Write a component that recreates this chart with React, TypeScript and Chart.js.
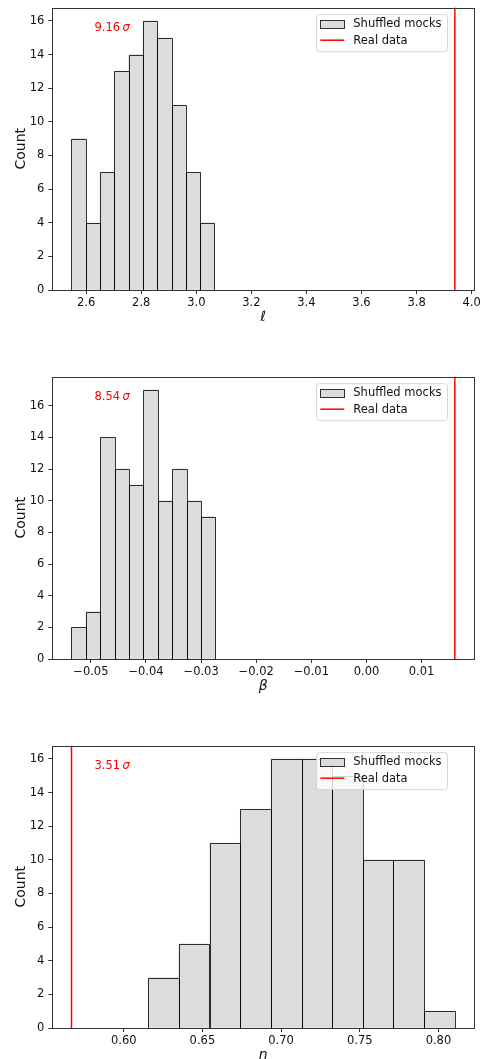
import React, { useEffect, useRef } from 'react';
import { Chart, registerables } from 'chart.js';

Chart.register(...registerables);

const FONT = "'DejaVu Sans', 'Liberation Sans', sans-serif";

// ---- Panel 1: ell ----
const ELL_BIN_EDGES = [2.5466, 2.5985, 2.6504, 2.7023, 2.7542, 2.8061, 2.8581, 2.91, 2.9619, 3.0138, 3.0657];
const ELL_COUNTS = [9, 4, 7, 13, 14, 16, 15, 11, 7, 4];
const ELL_REAL = 3.939;
const ELL_SIGMA = '9.16';
const ELL_TICKS = [2.6, 2.8, 3.0, 3.2, 3.4, 3.6, 3.8, 4.0];
const ELL_TICK_LABELS = ['2.6', '2.8', '3.0', '3.2', '3.4', '3.6', '3.8', '4.0'];
const ELL_X_RANGE = [2.477, 4.0086];
const ELL_Y_MAX = 16.8;

// ---- Panel 2: beta ----
const BETA_BIN_EDGES = [-0.05352, -0.05091, -0.0483, -0.04569, -0.04308, -0.04047, -0.03786, -0.03524, -0.03263, -0.03002, -0.02741];
const BETA_COUNTS = [2, 3, 14, 12, 11, 17, 10, 12, 10, 9];
const BETA_REAL = 0.01603;
const BETA_SIGMA = '8.54';
const BETA_TICKS = [-0.05, -0.04, -0.03, -0.02, -0.01, 0.0, 0.01];
const BETA_TICK_LABELS = ['\u22120.05', '\u22120.04', '\u22120.03', '\u22120.02', '\u22120.01', '0.00', '0.01'];
const BETA_X_RANGE = [-0.057, 0.01951];
const BETA_Y_MAX = 17.85;

// ---- Panel 3: n ----
const N_BIN_EDGES = [0.6155, 0.635, 0.6545, 0.674, 0.6935, 0.713, 0.7324, 0.7519, 0.7714, 0.7909, 0.8104];
const N_COUNTS = [3, 5, 11, 13, 16, 16, 15, 10, 10, 1];
const N_REAL = 0.5668;
const N_SIGMA = '3.51';
const N_TICKS = [0.6, 0.65, 0.7, 0.75, 0.8];
const N_TICK_LABELS = ['0.60', '0.65', '0.70', '0.75', '0.80'];
const N_X_RANGE = [0.5546, 0.8226];
const N_Y_MAX = 16.8;

const COUNT_TICKS = [0, 2, 4, 6, 8, 10, 12, 14, 16];

const BAR_FILL = '#dcdcdc';
const BAR_EDGE = 'rgba(0,0,0,0.8)';
const RED = '#ff0000';
const SPINE = '#333333';
const TEXT = '#111111';

const CANVAS_W = 487;
const CANVAS_H = 369;
const PLOT_TOP = 7.5;
const PLOT_BOTTOM = 290;
const Y_AXIS_W = 52.3;
const RIGHT_PAD = 13;
const X_TITLE_PAD = CANVAS_H - PLOT_BOTTOM - 27 - 7;

const decorPlugin = {
  id: 'decor',
  afterDatasetsDraw(chart: any, _args: any, opts: any) {
    const ctx = chart.ctx as CanvasRenderingContext2D;
    const area = chart.chartArea;
    ctx.save();
    // histogram bar edges (centred on bin boundaries, like matplotlib)
    const meta = chart.getDatasetMeta(0);
    ctx.strokeStyle = BAR_EDGE;
    ctx.lineWidth = 1;
    meta.data.forEach((el: any) => {
      const p = el.getProps(['x', 'y', 'base', 'width'], true);
      const l = Math.round(p.x - p.width / 2) + 0.5;
      const r = Math.round(p.x + p.width / 2) + 0.5;
      const t = Math.round(p.y) + 0.5;
      const b = Math.round(p.base) + 0.5;
      ctx.beginPath();
      ctx.moveTo(l, b);
      ctx.lineTo(l, t);
      ctx.lineTo(r, t);
      ctx.lineTo(r, b);
      ctx.stroke();
    });
    // spines
    ctx.strokeStyle = SPINE;
    ctx.lineWidth = 1;
    const L = Math.floor(area.left) + 0.5;
    const R = Math.round(area.right) + 0.5;
    const T = Math.round(area.top) + 0.5;
    const B = Math.round(area.bottom) + 0.5;
    ctx.strokeRect(L, T, R - L, B - T);

    // sigma annotation
    const ax = area.left + 0.1 * (area.right - area.left);
    const ay = area.top + 23.7;
    ctx.fillStyle = RED;
    ctx.textBaseline = 'alphabetic';
    ctx.textAlign = 'left';
    ctx.font = `11.5px ${FONT}`;
    const num = opts.sigma as string;
    ctx.fillText(num, ax, ay);
    const w = ctx.measureText(num).width;
    ctx.font = `italic 11.5px ${FONT}`;
    ctx.fillText('\u03c3', ax + w + 2.4, ay);

    // legend
    const bw = 131;
    const bh = 37;
    const bx = area.right - 27 - bw;
    const by = area.top + 6.7;
    ctx.beginPath();
    ctx.roundRect(bx + 0.5, by + 0.5, bw, bh, 3);
    ctx.fillStyle = 'rgba(255,255,255,0.8)';
    ctx.fill();
    ctx.strokeStyle = 'rgba(204,204,204,0.8)';
    ctx.lineWidth = 1;
    ctx.stroke();

    const ds = chart.data.datasets;
    const y1 = by + 9.3;
    const y2 = by + 26;
    // patch
    ctx.fillStyle = BAR_FILL;
    ctx.fillRect(Math.round(bx + 4.3) + 0.5, Math.round(y1 - 4) + 0.5, 24, 8);
    ctx.strokeStyle = BAR_EDGE;
    ctx.strokeRect(Math.round(bx + 4.3) + 0.5, Math.round(y1 - 4) + 0.5, 24, 8);
    // line
    ctx.strokeStyle = RED;
    ctx.lineWidth = 1.5;
    ctx.beginPath();
    ctx.moveTo(bx + 4.3, y2);
    ctx.lineTo(bx + 28.3, y2);
    ctx.stroke();
    // text
    ctx.fillStyle = TEXT;
    ctx.font = `11.5px ${FONT}`;
    ctx.textBaseline = 'middle';
    ctx.fillText(ds[0].label, bx + 37.3, y1 + 0.5);
    ctx.fillText(ds[1].label, bx + 37.3, y2 + 0.5);
    ctx.restore();
  },
};

type PanelProps = {
  edges: number[];
  counts: number[];
  real: number;
  sigma: string;
  xTicks: number[];
  xTickLabels: string[];
  xRange: number[];
  yMax: number;
  xTitle: string;
  top: number;
};

function HistPanel(props: PanelProps) {
  const ref = useRef<HTMLCanvasElement>(null);
  useEffect(() => {
    const { edges, counts, real, sigma, xTicks, xTickLabels, xRange, yMax, xTitle } = props;
    const bars = counts.map((c, i) => ({ x: (edges[i] + edges[i + 1]) / 2, y: c }));
    const tickFont = { family: FONT, size: 11.5 };
    const chart = new Chart(ref.current as HTMLCanvasElement, {
      type: 'bar',
      data: {
        datasets: [
          {
            type: 'bar',
            label: 'Shuffled mocks',
            data: bars as any,
            backgroundColor: BAR_FILL,
            borderWidth: 0,
            barPercentage: 1,
            categoryPercentage: 1,
            order: 2,
          },
          {
            type: 'line',
            label: 'Real data',
            data: [
              { x: real, y: 0 },
              { x: real, y: yMax },
            ] as any,
            borderColor: RED,
            borderWidth: 1.5,
            pointRadius: 0,
            fill: false,
            order: 1,
          } as any,
        ],
      },
      options: {
        responsive: false,
        animation: false,
        events: [],
        layout: { padding: { left: 0, right: RIGHT_PAD, top: PLOT_TOP, bottom: 0 } },
        plugins: {
          legend: { display: false },
          tooltip: { enabled: false },
          decor: { sigma },
        } as any,
        scales: {
          x: {
            type: 'linear',
            min: xRange[0],
            max: xRange[1],
            offset: false,
            grid: {
              display: true,
              drawOnChartArea: false,
              drawTicks: true,
              tickLength: 4,
              tickColor: SPINE,
              offset: false,
            },
            border: { display: false },
            ticks: {
              color: TEXT,
              font: tickFont,
              padding: 2,
              maxRotation: 0,
              minRotation: 0,
              autoSkip: false,
              callback: (_v: any, i: number) => xTickLabels[i],
            },
            afterBuildTicks: (s: any) => {
              s.ticks = xTicks.map((v) => ({ value: v }));
            },
            afterFit: (s: any) => {
              s.height = CANVAS_H - PLOT_BOTTOM;
              s.paddingLeft = 0;
              s.paddingRight = 0;
            },
            title: {
              display: true,
              text: xTitle,
              color: TEXT,
              font: { family: FONT, size: 14, style: 'italic', lineHeight: 1 },
              padding: { top: X_TITLE_PAD, bottom: X_TITLE_PAD },
            },
          } as any,
          y: {
            type: 'linear',
            min: 0,
            max: yMax,
            grid: {
              display: true,
              drawOnChartArea: false,
              drawTicks: true,
              tickLength: 4,
              tickColor: SPINE,
            },
            border: { display: false },
            ticks: {
              color: TEXT,
              font: tickFont,
              padding: 4,
              autoSkip: false,
              callback: (v: any) => String(v),
            },
            afterBuildTicks: (s: any) => {
              s.ticks = COUNT_TICKS.map((v) => ({ value: v }));
            },
            afterFit: (s: any) => {
              s.width = Y_AXIS_W;
              s.paddingTop = 0;
              s.paddingBottom = 0;
            },
            title: {
              display: true,
              text: 'Count',
              color: TEXT,
              font: { family: FONT, size: 14, lineHeight: 1 },
              padding: { top: 14, bottom: 0 },
            },
          } as any,
        },
      },
      plugins: [decorPlugin],
    });
    return () => chart.destroy();
  }, []);
  return (
    <canvas
      ref={ref}
      width={CANVAS_W}
      height={CANVAS_H}
      style={{ position: 'absolute', left: 0, top: props.top, width: CANVAS_W, height: CANVAS_H }}
    />
  );
}

export default function App() {
  return (
    <div
      style={{
        position: 'absolute',
        left: 0,
        top: 0,
        width: 487,
        height: 1059,
        overflow: 'hidden',
        background: '#ffffff',
      }}
    >
      <HistPanel
        edges={ELL_BIN_EDGES}
        counts={ELL_COUNTS}
        real={ELL_REAL}
        sigma={ELL_SIGMA}
        xTicks={ELL_TICKS}
        xTickLabels={ELL_TICK_LABELS}
        xRange={ELL_X_RANGE}
        yMax={ELL_Y_MAX}
        xTitle={'\u2113'}
        top={0}
      />
      <HistPanel
        edges={BETA_BIN_EDGES}
        counts={BETA_COUNTS}
        real={BETA_REAL}
        sigma={BETA_SIGMA}
        xTicks={BETA_TICKS}
        xTickLabels={BETA_TICK_LABELS}
        xRange={BETA_X_RANGE}
        yMax={BETA_Y_MAX}
        xTitle={'\u03b2'}
        top={369}
      />
      <HistPanel
        edges={N_BIN_EDGES}
        counts={N_COUNTS}
        real={N_REAL}
        sigma={N_SIGMA}
        xTicks={N_TICKS}
        xTickLabels={N_TICK_LABELS}
        xRange={N_X_RANGE}
        yMax={N_Y_MAX}
        xTitle={'n'}
        top={738}
      />
    </div>
  );
}
